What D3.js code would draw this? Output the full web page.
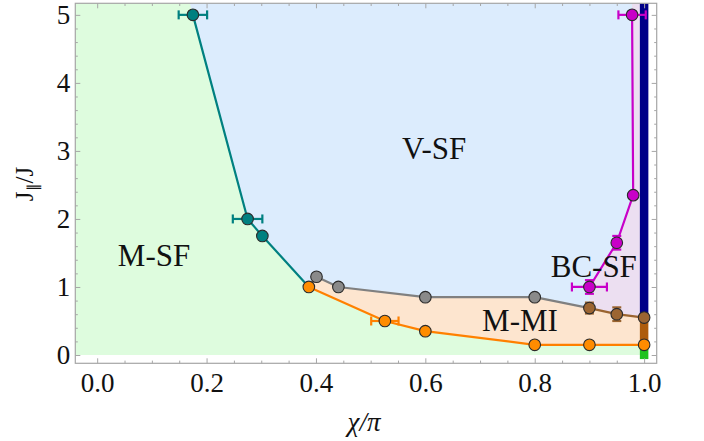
<!DOCTYPE html>
<html><head><meta charset="utf-8">
<script src="https://cdn.jsdelivr.net/npm/d3@7"></script>
<style>body{margin:0;background:#fff}svg{display:block}</style>
</head><body>
<svg id="c" width="704" height="441"></svg>
<script>
// ---- data ----
const xTicks = [0.0, 0.2, 0.4, 0.6, 0.8, 1.0];
const yTicks = [0, 1, 2, 3, 4, 5];
const tealX = [0.175, 0.275, 0.302, 0.387];
const tealY = [5.0, 2.0, 1.75, 1.0];
const tealXErr = [0.026, 0.027, 0, 0];
const grayX = [0.401, 0.441, 0.6, 0.8];
const grayY = [1.15, 1.0, 0.85, 0.85];
const brownX = [0.9, 0.95, 1.0];
const brownY = [0.69, 0.6, 0.55];
const brownYErr = [0.08, 0.1, 0];
const orangeX = [0.387, 0.526, 0.6, 0.8, 0.9, 1.0];
const orangeY = [1.0, 0.5, 0.35, 0.15, 0.15, 0.15];
const orangeXErr = [0, 0.025, 0, 0, 0, 0];
const magX = [0.9, 0.95, 0.98, 0.978];
const magY = [1.0, 1.65, 2.35, 5.0];
const magXErr = [0.032, 0, 0, 0.025];
const magYErr = [0.1, 0.1, 0, 0];
const stripeNames = ["navy", "brown", "green"];
const stripeLo = [0.55, 0.15, -0.06];
const stripeHi = [5.17, 0.55, 0.15];
const phaseNames = ["V-SF", "M-SF", "BC-SF", "M-MI"];
const phaseX = [0.616, 0.104, 0.908, 0.773];
const phaseY = [2.88, 1.31, 1.15, 0.35];

// ---- setup ----
const svg = d3.select("#c");
const X0 = -0.04, X1 = 1.023, Y0 = -0.122, Y1 = 5.17;
const x = d3.scaleLinear().domain([X0, X1]).range([75.3, 656.7]);
const y = d3.scaleLinear().domain([Y0, Y1]).range([363.3, 3.3]);
const serif = "'Liberation Serif', 'Times New Roman', serif";
const line = d3.line().x(d => x(d[0])).y(d => y(d[1]));
const zip = (a, b) => a.map((v, i) => [v, b[i]]);

// ---- backgrounds ----
const teal = zip(tealX, tealY);
const gray = zip(grayX, grayY);
const brown = zip(brownX, brownY);
const orange = zip(orangeX, orangeY);
const mag = zip(magX, magY);
const topTealX = tealX[0] + (tealX[1] - tealX[0]) / (tealY[1] - tealY[0]) * (Y1 - tealY[0]);

svg.append("path").attr("fill", "#defcde")
  .attr("d", line([[X0, 0], [X0, Y1], [1.0, Y1], [1.0, 0]]) + "Z");
const grayFull = [teal[3], ...gray, brown[0]];
const bluePoly = [[topTealX, Y1], ...teal, ...gray, brown[0], ...mag, [magX[3], Y1]];
svg.append("path").attr("fill", "#dcecfd").attr("d", line(bluePoly) + "Z");
const purplePoly = [brown[0], ...mag, [magX[3], Y1], [1.0, Y1], ...brown.slice().reverse()];
svg.append("path").attr("fill", "#ecdff1").attr("d", line(purplePoly) + "Z");
const orangePoly = [...grayFull, ...brown.slice(1), ...orange.slice().reverse()];
svg.append("path").attr("fill", "#fde5cf").attr("d", line(orangePoly) + "Z");

// ---- stripes at x = 1 ----
const stripeColors = {navy: "#000088", brown: "#ad5c0c", green: "#1fc21f"};
stripeNames.forEach((n, i) => {
  svg.append("line").attr("x1", x(1)).attr("x2", x(1))
    .attr("y1", y(stripeLo[i])).attr("y2", y(stripeHi[i]))
    .attr("stroke", stripeColors[n]).attr("stroke-width", 8.5);
});

// ---- frame & ticks ----
const frameCol = "#a6a6a6";
svg.append("rect").attr("x", x(X0)).attr("y", y(Y1))
  .attr("width", x(X1) - x(X0)).attr("height", y(Y0) - y(Y1))
  .attr("fill", "none").attr("stroke", frameCol).attr("stroke-width", 1.2);

const xMinor = d3.range(0, 1.0001, 0.05).filter(v => Math.abs(v * 5 - Math.round(v * 5)) > 1e-6);
const yMinor = d3.range(0, 5.0001, 0.2).filter(v => Math.abs(v - Math.round(v)) > 1e-6);

function styleAxis(g) {
  g.select(".domain").remove();
  g.selectAll("line").attr("stroke", frameCol).attr("stroke-width", 1);
}
function styleLabels(g) {
  g.selectAll("text").style("font-family", serif).style("font-size", "27px").attr("fill", "#111");
}
const bottomMaj = svg.append("g").attr("transform", `translate(0,${y(Y0)})`)
  .call(d3.axisBottom(x).tickValues(xTicks).tickSize(-5).tickFormat(d3.format(".1f")));
styleAxis(bottomMaj); styleLabels(bottomMaj);
bottomMaj.selectAll("text").attr("y", 29).attr("dy", 0);
svg.append("g").attr("transform", `translate(0,${y(Y0)})`)
  .call(d3.axisBottom(x).tickValues(xMinor).tickSize(-2.7).tickFormat("")).call(styleAxis);
svg.append("g").attr("transform", `translate(0,${y(Y1)})`)
  .call(d3.axisTop(x).tickValues(xTicks).tickSize(-5).tickFormat("")).call(styleAxis);
svg.append("g").attr("transform", `translate(0,${y(Y1)})`)
  .call(d3.axisTop(x).tickValues(xMinor).tickSize(-2.7).tickFormat("")).call(styleAxis);

const leftMaj = svg.append("g").attr("transform", `translate(${x(X0)},0)`)
  .call(d3.axisLeft(y).tickValues(yTicks).tickSize(-5).tickFormat(d3.format("d")));
styleAxis(leftMaj); styleLabels(leftMaj);
leftMaj.selectAll("text").attr("x", -5).attr("dy", "0.33em");
svg.append("g").attr("transform", `translate(${x(X0)},0)`)
  .call(d3.axisLeft(y).tickValues(yMinor).tickSize(-2.5).tickFormat("")).call(styleAxis);
svg.append("g").attr("transform", `translate(${x(X1)},0)`)
  .call(d3.axisRight(y).tickValues(yTicks).tickSize(-5).tickFormat("")).call(styleAxis);
svg.append("g").attr("transform", `translate(${x(X1)},0)`)
  .call(d3.axisRight(y).tickValues(yMinor).tickSize(-2.5).tickFormat("")).call(styleAxis);

// ---- lines ----
const cols = {teal: "#008080", gray: "#808080", brown: "#9a6430", orange: "#ff8000", mag: "#c800c8"};
const fills = {teal: "#008080", gray: "#8a8a8a", brown: "#9c6532", orange: "#ff8c00", mag: "#c800c8"};
function drawLine(pts, c) {
  svg.append("path").attr("d", line(pts)).attr("fill", "none")
    .attr("stroke", c).attr("stroke-width", 2.2).attr("stroke-linejoin", "round");
}
drawLine(teal, cols.teal);
drawLine(grayFull, cols.gray);
drawLine(brown, cols.brown);
drawLine(orange, cols.orange);
drawLine(mag, cols.mag);

// ---- error bars ----
function errX(px, py, ex, c) {
  px.forEach((v, i) => {
    if (!ex[i]) return;
    const g = svg.append("g").attr("stroke", c).attr("stroke-width", 2.2);
    g.append("line").attr("x1", x(v - ex[i])).attr("x2", x(v + ex[i])).attr("y1", y(py[i])).attr("y2", y(py[i]));
    [v - ex[i], v + ex[i]].forEach(e => g.append("line").attr("x1", x(e)).attr("x2", x(e))
      .attr("y1", y(py[i]) - 4.5).attr("y2", y(py[i]) + 4.5));
  });
}
function errY(px, py, ey, c) {
  px.forEach((v, i) => {
    if (!ey[i]) return;
    const g = svg.append("g").attr("stroke", c).attr("stroke-width", 2.2);
    g.append("line").attr("x1", x(v)).attr("x2", x(v)).attr("y1", y(py[i] - ey[i])).attr("y2", y(py[i] + ey[i]));
    [py[i] - ey[i], py[i] + ey[i]].forEach(e => g.append("line").attr("y1", y(e)).attr("y2", y(e))
      .attr("x1", x(v) - 4.5).attr("x2", x(v) + 4.5));
  });
}
errX(tealX, tealY, tealXErr, cols.teal);
errX(orangeX, orangeY, orangeXErr, cols.orange);
errX(magX, magY, magXErr, cols.mag);
errY(magX, magY, magYErr, cols.mag);
errY(brownX, brownY, brownYErr, cols.brown);

// ---- points ----
function pts(arr, f) {
  svg.append("g").selectAll("circle").data(arr).join("circle")
    .attr("cx", d => x(d[0])).attr("cy", d => y(d[1])).attr("r", 5.8)
    .attr("fill", f).attr("stroke", "#2a2a2a").attr("stroke-width", 1.1);
}
pts(teal.slice(0, 3), fills.teal);
pts(gray, fills.gray);
pts(brown, fills.brown);
pts(orange, fills.orange);
pts(mag, fills.mag);

// ---- phase labels ----
phaseNames.forEach((n, i) => {
  svg.append("text").attr("x", x(phaseX[i])).attr("y", y(phaseY[i]))
    .attr("text-anchor", "middle").style("font-family", serif).style("font-size", "31px")
    .attr("fill", "#111").text(n);
});

// ---- axis labels ----
svg.append("text").attr("x", 364).attr("y", 431).attr("text-anchor", "middle")
  .style("font-family", serif).style("font-size", "27px").style("font-style", "italic").attr("fill", "#111")
  .text("χ/π");
const yl = svg.append("text").attr("transform", "translate(33,184) rotate(-90)")
  .attr("text-anchor", "middle").style("font-family", serif).style("font-size", "25px").attr("fill", "#111");
yl.append("tspan").text("J");
yl.append("tspan").style("font-size", "15px").attr("dy", 5).text("∥");
yl.append("tspan").attr("dy", -5).text("/J");
</script>
</body></html>
